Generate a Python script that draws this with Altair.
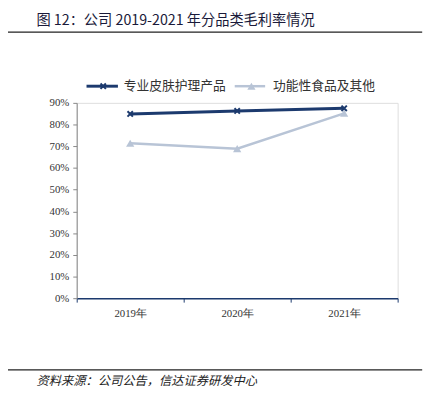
import altair as alt
import pandas as pd

years = ["2019年", "2020年", "2021年"]
series_names = ["专业皮肤护理产品", "功能性食品及其他"]
skin_care = [0.849, 0.863, 0.875]
func_food = [0.714, 0.689, 0.852]
y_ticks = [0, 0.1, 0.2, 0.3, 0.4, 0.5, 0.6, 0.7, 0.8, 0.9]

title_text = "图 12：公司 2019-2021 年分品类毛利率情况"
source_text = "资料来源：公司公告，信达证券研发中心"

rows = []
for i, y in enumerate(years):
    rows.append({"year": y, "series": series_names[0], "value": skin_care[i]})
    rows.append({"year": y, "series": series_names[1], "value": func_food[i]})
df = pd.DataFrame(rows)
one = pd.DataFrame({"k": [0]})

C1 = "#1c3a6e"
C2 = "#b8c4d6"
XPATH = "M-1,-1L1,1M-1,1L1,-1"
SERIF = "Liberation Serif"
CJK = "Noto Sans CJK SC"

x_enc = alt.X("year:N", sort=years, title=None,
              scale=alt.Scale(paddingInner=0, paddingOuter=0),
              axis=alt.Axis(labelAngle=0, labelFont=SERIF, labelFontSize=11,
                            labelColor="#333", domainColor=C1, domainWidth=1.5,
                            tickColor=C1, tickSize=4, tickBand="extent",
                            labelPadding=6, grid=False))
y_enc = alt.Y("value:Q", title=None,
              scale=alt.Scale(domain=[0, 0.9], nice=False),
              axis=alt.Axis(values=y_ticks, format=".0%", labelFont=SERIF,
                            labelFontSize=11, labelColor="#333", domainColor="#888",
                            tickColor="#888", tickSize=4, labelPadding=4, grid=False))

base = alt.Chart(df)

line1 = base.transform_filter(alt.datum.series == series_names[0]).mark_line(
    color=C1, strokeWidth=3).encode(x=x_enc, y=y_enc)
pt1 = base.transform_filter(alt.datum.series == series_names[0]).mark_point(
    shape=XPATH, size=30, color=C1, strokeWidth=2, filled=False, opacity=1).encode(x=x_enc, y=y_enc)
line2 = base.transform_filter(alt.datum.series == series_names[1]).mark_line(
    color=C2, strokeWidth=2.5).encode(x=x_enc, y=y_enc)
pt2 = base.transform_filter(alt.datum.series == series_names[1]).mark_point(
    shape="triangle-up", size=70, color=C2, filled=True, opacity=1).encode(x=x_enc, y=y_enc)

# manual legend
ly = -17
c = alt.Chart(one)
leg_line1 = c.mark_rule(color=C1, strokeWidth=3).encode(
    x=alt.value(10), x2=alt.value(42), y=alt.value(ly))
leg_pt1 = c.mark_point(shape=XPATH, size=30, color=C1, strokeWidth=2,
                       filled=False, opacity=1).encode(x=alt.value(27), y=alt.value(ly))
leg_txt1 = c.mark_text(text=series_names[0], font=CJK, fontSize=13, fontWeight="normal",
                       align="left", baseline="middle", color="#333").encode(
    x=alt.value(48), y=alt.value(ly))
leg_line2 = c.mark_rule(color=C2, strokeWidth=2.5).encode(
    x=alt.value(161), x2=alt.value(192), y=alt.value(ly))
leg_pt2 = c.mark_point(shape="triangle-up", size=70, color=C2, filled=True,
                       opacity=1).encode(x=alt.value(178), y=alt.value(ly))
leg_txt2 = c.mark_text(text=series_names[1], font=CJK, fontSize=13, fontWeight="normal",
                       align="left", baseline="middle", color="#333").encode(
    x=alt.value(200), y=alt.value(ly))

# header / footer
title = c.mark_text(text=title_text, font=CJK, fontSize=14.5, fontWeight="normal",
                    align="left", baseline="middle", color="#1a1a3a").encode(
    x=alt.value(-41), y=alt.value(-83))
top_rule = c.mark_rule(color="#222", strokeWidth=1.2).encode(
    x=alt.value(-78), x2=alt.value(352), y=alt.value(-72))
bot_rule = c.mark_rule(color="#222", strokeWidth=1.2).encode(
    x=alt.value(-78), x2=alt.value(352), y=alt.value(272))
source = c.mark_text(text=source_text, font=CJK, fontSize=12.5, fontStyle="italic",
                     fontWeight="normal", align="left", baseline="middle", color="#222").encode(
    x=alt.value(-41), y=alt.value(283))

chart = alt.layer(
    line2, pt2, line1, pt1,
    leg_line1, leg_pt1, leg_txt1, leg_line2, leg_pt2, leg_txt2,
    title, top_rule, bot_rule, source
).properties(
    width=327, height=199,
    autosize=alt.AutoSizeParams(type="none"),
    padding={"left": 70, "top": 93, "right": 35, "bottom": 97},
).configure_view(stroke=None).configure(background="white")

chart.save("out.html", embed_options={"renderer": "svg", "actions": False})
